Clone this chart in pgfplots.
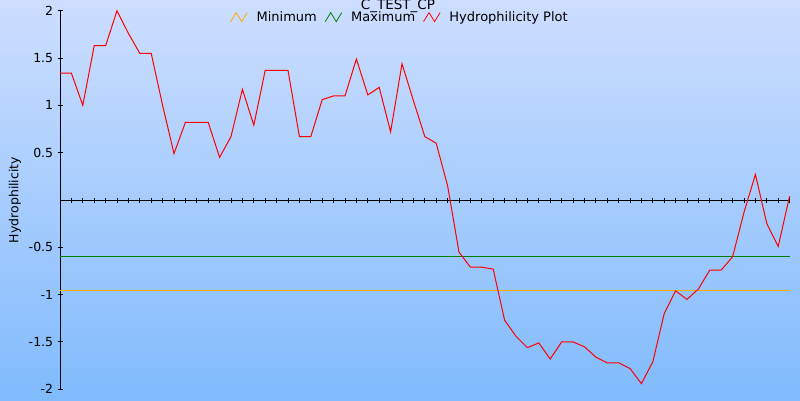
\documentclass[border=0pt]{standalone}
\usepackage{fontspec}
\setmainfont{DejaVu Sans}
\usepackage{pgfplots}
\pgfplotsset{compat=1.18}
\usepackage{pgfplotstable}

\definecolor{bgtop}{RGB}{205,222,255}
\definecolor{bgbot}{RGB}{128,187,252}
\definecolor{minorange}{RGB}{255,170,0}
\definecolor{maxgreen}{RGB}{0,128,0}

\pgfplotstableread{
i h
0 1.34
1 1.34
2 1.00
3 1.63
4 1.63
5 2.00
6 1.76
7 1.55
8 1.55
9 1.00
10 0.49
11 0.82
12 0.82
13 0.82
14 0.45
15 0.67
16 1.17
17 0.79
18 1.37
19 1.37
20 1.37
21 0.67
22 0.67
23 1.06
24 1.10
25 1.10
26 1.49
27 1.11
28 1.19
29 0.72
30 1.44
31 1.05
32 0.67
33 0.60
34 0.15
35 -0.55
36 -0.71
37 -0.71
38 -0.73
39 -1.27
40 -1.44
41 -1.56
42 -1.51
43 -1.68
44 -1.50
45 -1.50
46 -1.55
47 -1.66
48 -1.72
49 -1.72
50 -1.78
51 -1.94
52 -1.71
53 -1.20
54 -0.96
55 -1.05
56 -0.94
57 -0.74
58 -0.74
59 -0.60
60 -0.13
61 0.27
62 -0.25
63 -0.49
64 0.04
}\hydro

\begin{document}
\fontsize{12.5bp}{15bp}\selectfont
\begin{tikzpicture}[x=1bp,y=1bp]
\path[use as bounding box] (0,0) rectangle (800,400);
\shade[top color=bgtop, bottom color=bgbot] (0,0) rectangle (800,400);
\node[anchor=base, font=\fontsize{13.5bp}{15bp}\selectfont] at (398,390.7) {C\_TEST\_CP};
\begin{axis}[
  at={(60bp,10.7bp)}, anchor=south west,
  scale only axis, width=729.6bp, height=378.6bp,
  xmin=0, xmax=64, ymin=-2, ymax=2,
  axis x line=middle, axis y line=left,
  axis line style={-, black, line width=1bp},
  xtick={1,...,64}, xticklabels={},
  ytick={-2,-1.5,-1,-0.5,0.5,1,1.5,2},
  tick align=center, major tick length=5bp,
  tick style={black, line width=1bp},
  /pgf/number format/assume math mode=true,
  yticklabel style={font=\fontsize{12.5bp}{15bp}\selectfont},
  ylabel={Hydrophilicity},
  ylabel style={at={(axis description cs:-0.0617,0.5)}, anchor=center, font=\fontsize{12.5bp}{15bp}\selectfont},
  legend columns=3,
  legend style={at={(axis description cs:0.466,0.983)}, anchor=center,
    draw=none, fill=none, inner sep=0pt,
    font=\fontsize{13bp}{15bp}\selectfont,
    /tikz/every odd column/.append style={column sep=7bp},
    /tikz/every even column/.append style={column sep=6bp}},
  legend image code/.code={\draw[#1, line width=0.8bp] (0bp,-4.5bp) -- (5.5bp,4.5bp) -- (11bp,-4.5bp) -- (16.5bp,4.5bp);},
  clip=false,
]
\addplot[minorange, line width=1bp] coordinates {(0,-0.96) (64,-0.96)};
\addlegendentry{Minimum}
\addplot[maxgreen, line width=1bp] coordinates {(0,-0.60) (64,-0.60)};
\addlegendentry{Maximum}
\addplot[red, line width=1bp] table[x=i, y=h] {\hydro};
\addlegendentry{Hydrophilicity Plot}
\end{axis}
\end{tikzpicture}
\end{document}
